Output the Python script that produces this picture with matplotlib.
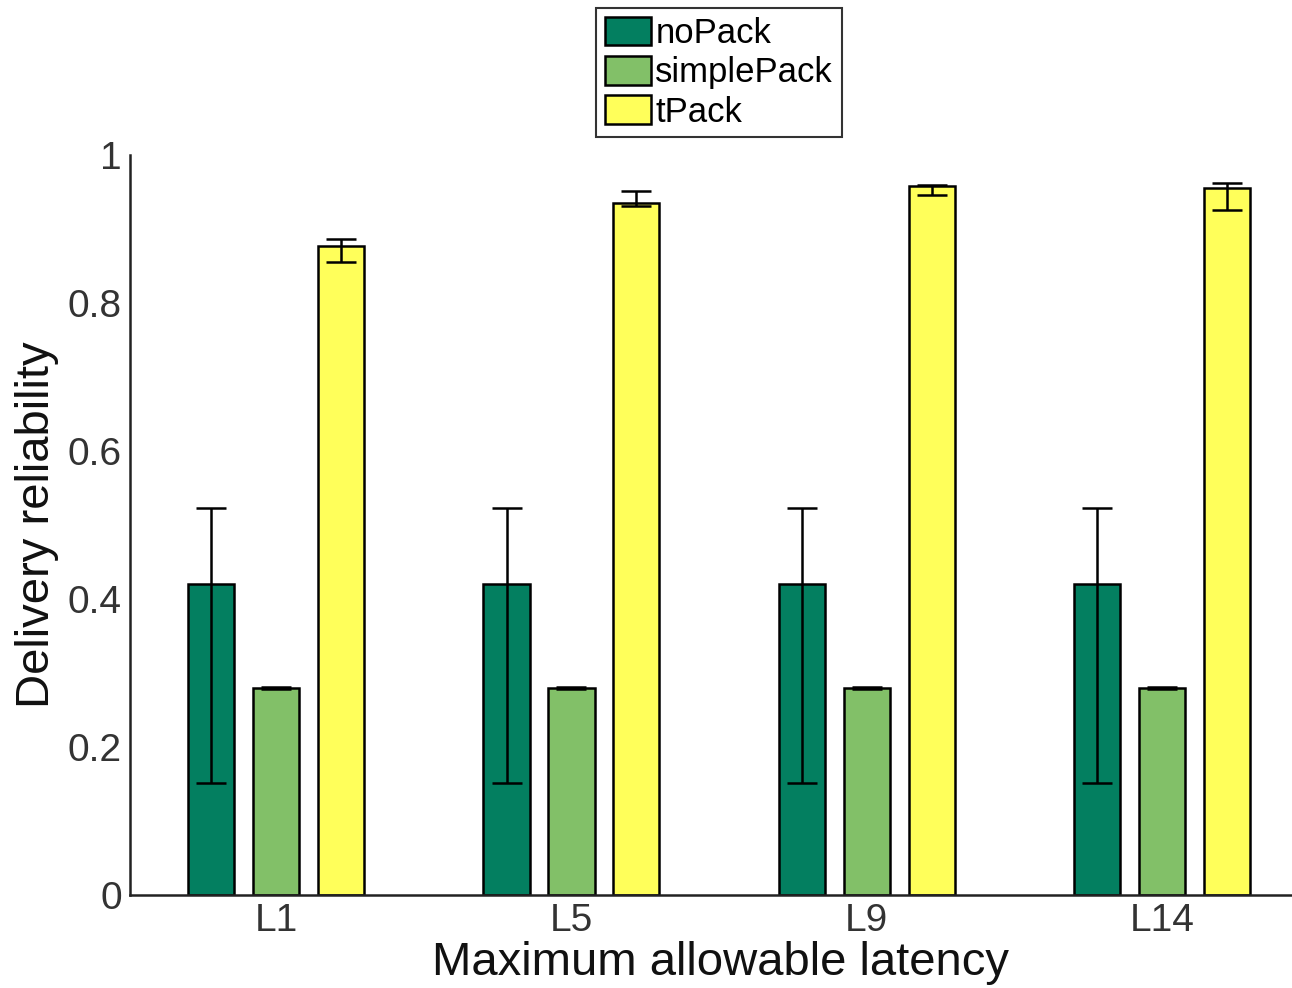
import matplotlib
matplotlib.use("Agg")
import matplotlib.pyplot as plt
import numpy as np

plt.rcParams['font.family'] = ['Liberation Sans', 'DejaVu Sans']

categories = ["L1", "L5", "L9", "L14"]
series = ["noPack", "simplePack", "tPack"]
noPack = [0.42, 0.42, 0.42, 0.42]
noPack_lo = [0.151, 0.151, 0.151, 0.151]
noPack_hi = [0.523, 0.523, 0.523, 0.523]
simplePack = [0.280, 0.280, 0.280, 0.280]
simplePack_lo = [0.278, 0.278, 0.278, 0.278]
simplePack_hi = [0.281, 0.281, 0.281, 0.281]
tPack = [0.877, 0.935, 0.958, 0.955]
tPack_lo = [0.855, 0.931, 0.946, 0.926]
tPack_hi = [0.886, 0.951, 0.960, 0.962]

colors = ["#037f60", "#82c068", "#ffff5a"]

fig = plt.figure(figsize=(12.92, 9.88), dpi=100)
ax = fig.add_axes([130/1292, 1-895/988, (1292-130)/1292, (895-155)/988])

x = np.arange(1, len(categories) + 1)
width = 0.156
offs = [-0.22, 0.0, 0.22]
data = [(noPack, noPack_lo, noPack_hi), (simplePack, simplePack_lo, simplePack_hi), (tPack, tPack_lo, tPack_hi)]
for i, (vals, lo, hi) in enumerate(data):
    vals = np.array(vals); lo = np.array(lo); hi = np.array(hi)
    ax.bar(x + offs[i], vals, width, color=colors[i], edgecolor="black", linewidth=1.8, label=series[i], zorder=2)
    ax.errorbar(x + offs[i], vals, yerr=[vals - lo, hi - vals], fmt="none", ecolor="black",
                elinewidth=1.8, capsize=11, capthick=1.8, zorder=3)

ax.set_xlim(0.505, 4.44)
ax.set_ylim(0, 1)
ax.set_xticks(x)
ax.set_xticklabels(categories)
ax.set_yticks([0, 0.2, 0.4, 0.6, 0.8, 1])
ax.set_yticklabels(["0", "0.2", "0.4", "0.6", "0.8", "1"])
ax.tick_params(axis="x", length=0, labelsize=28, labelcolor="#333333", pad=6)
ax.tick_params(axis="y", length=0, labelsize=28, labelcolor="#333333", pad=6)
for s in ["top", "right"]:
    ax.spines[s].set_visible(False)
for s in ["left", "bottom"]:
    ax.spines[s].set_linewidth(1.8)
    ax.spines[s].set_color("#222222")

ax.set_xlabel("Maximum allowable latency", fontsize=34, labelpad=0, color="#111111")
ax.xaxis.label.set_verticalalignment("top")
ax.xaxis.set_label_coords((720-130)/1162, -(941-895)/740)
ax.set_ylabel("Delivery reliability", fontsize=34, labelpad=6, color="#111111")

leg = ax.legend(loc="upper center", bbox_to_anchor=(719/1292, 1 - 8/988), bbox_transform=fig.transFigure,
                fontsize=25, frameon=True, fancybox=False, edgecolor="black", handlelength=1.33,
                handleheight=0.9, handletextpad=0.12, borderpad=0.25, labelspacing=0.17, borderaxespad=0)
leg.get_frame().set_linewidth(1.5)

fig.savefig("out.png", dpi=100)
